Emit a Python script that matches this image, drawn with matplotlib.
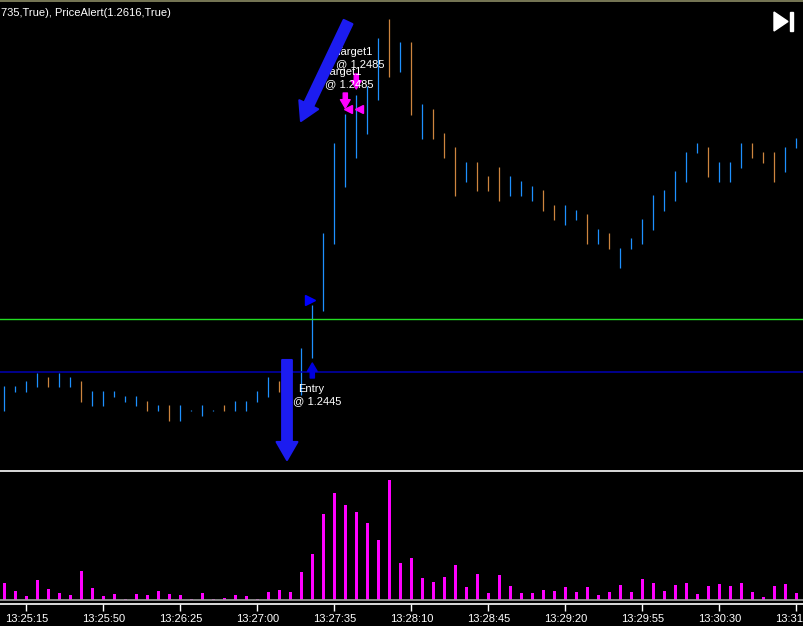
import matplotlib
matplotlib.use("Agg")
import matplotlib.pyplot as plt
from matplotlib.patches import FancyArrowPatch, Polygon, Rectangle
from matplotlib.lines import Line2D

plt.rcParams['font.family'] = ['Liberation Sans', 'DejaVu Sans']

# 5秒K线, 13:25:05 ~ 13:31:05
highs = [1.24422, 1.24422, 1.24432, 1.24448, 1.24440, 1.24448, 1.24440, 1.24432, 1.24412, 1.24412,
         1.24412, 1.24402, 1.24402, 1.24392, 1.24384, 1.24384, 1.24384, 1.24374, 1.24384, 1.24374,
         1.24384, 1.24392, 1.24392, 1.24412, 1.24440, 1.24432, 1.24438, 1.24498, 1.24584, 1.24728,
         1.24908, 1.24966, 1.25004, 1.25022, 1.25118, 1.25156, 1.25110, 1.25110, 1.24986, 1.24976,
         1.24928, 1.24900, 1.24870, 1.24870, 1.24842, 1.24860, 1.24842, 1.24832, 1.24822, 1.24814,
         1.24784, 1.24784, 1.24774, 1.24766, 1.24736, 1.24728, 1.24698, 1.24718, 1.24756, 1.24804,
         1.24814, 1.24852, 1.24890, 1.24908, 1.24900, 1.24870, 1.24870, 1.24908, 1.24908, 1.24890,
         1.24890, 1.24900, 1.24918]
lows = [1.24372, 1.24410, 1.24410, 1.24420, 1.24420, 1.24420, 1.24420, 1.24390, 1.24382, 1.24382,
        1.24400, 1.24390, 1.24382, 1.24372, 1.24372, 1.24352, 1.24352, 1.24372, 1.24362, 1.24372,
        1.24372, 1.24372, 1.24372, 1.24390, 1.24400, 1.24410, 1.24404, 1.24404, 1.24478, 1.24572,
        1.24706, 1.24820, 1.24878, 1.24926, 1.24994, 1.25040, 1.25050, 1.24964, 1.24916, 1.24916,
        1.24878, 1.24802, 1.24830, 1.24812, 1.24812, 1.24792, 1.24802, 1.24802, 1.24792, 1.24772,
        1.24754, 1.24744, 1.24754, 1.24706, 1.24706, 1.24696, 1.24658, 1.24696, 1.24706, 1.24734,
        1.24772, 1.24792, 1.24830, 1.24888, 1.24840, 1.24830, 1.24830, 1.24858, 1.24878, 1.24868,
        1.24830, 1.24850, 1.24898]
# 1 = 上涨(蓝), 0 = 下跌(橙)
up = [1, 1, 1, 1, 0, 1, 1, 0, 1, 1,
      1, 1, 1, 0, 1, 0, 1, 1, 1, 1,
      0, 1, 1, 1, 1, 0, 1, 1, 1, 1,
      1, 1, 1, 1, 1, 0, 1, 0, 1, 0,
      0, 0, 1, 0, 0, 0, 1, 1, 1, 0,
      0, 1, 1, 0, 1, 0, 1, 1, 1, 1,
      1, 1, 1, 1, 0, 1, 1, 1, 0, 0,
      0, 1, 1]
volume = [17, 9, 4, 20, 11, 7, 5, 29, 12, 4,
          6, 1, 6, 5, 9, 6, 5, 1, 7, 1,
          2, 5, 4, 1, 8, 10, 8, 28, 46, 86,
          107, 95, 88, 77, 60, 120, 37, 42, 22, 18,
          23, 35, 13, 26, 7, 25, 14, 7, 7, 10,
          9, 13, 8, 13, 5, 8, 15, 8, 21, 17,
          9, 15, 17, 6, 14, 16, 14, 17, 8, 3,
          14, 16, 7]

tick_idx = [2, 9, 16, 23, 30, 37, 44, 51, 58, 65, 72]
tick_labels = ["13:25:15", "13:25:50", "13:26:25", "13:27:00", "13:27:35", "13:28:10",
               "13:28:45", "13:29:20", "13:29:55", "13:30:30", "13:31:05"]

entry_price = 1.2445
alert_price = 1.24556

# 订单标记
entry_bar = 28
entry_arrow = (1.24438, 1.24468)      # 尾 -> 头
stop_marker = (27.79, 1.24593)
target_arrows = [(32.0, 1.25046, 1.25016), (31.0, 1.25008, 1.24978)]
target_ticks = [(31.25, 1.24976), (32.25, 1.24976)]

# 手绘箭头 (尾, 头)
big_arrows = [((31.25, 1.25150), (26.97, 1.24952)),
              ((25.7, 1.24474), (25.7, 1.24274))]

x = list(range(len(highs)))
cols = ['#1e90ff' if u else '#cd853f' for u in up]

fig = plt.figure(figsize=(8.04, 6.26), dpi=100, facecolor='black')
H = 626.0
ax = fig.add_axes([0, (H - 468) / H, 1, 467 / H], facecolor='black')
ax2 = fig.add_axes([0, 22 / H, 1, 133 / H], facecolor='black', sharex=ax)

# 价格K线
ax.vlines(x, lows, highs, colors=cols, linewidth=0.9)
ax.axhline(alert_price, color='#22dd22', linewidth=1.0)
ax.axhline(entry_price, color='#0000b4', linewidth=1.1)
ax.set_xlim(-0.39, 72.7)
ax.set_ylim(1.24258, 1.25192)
ax.axis('off')

# 入场标记
ax.annotate('', xy=(entry_bar, entry_arrow[1]), xytext=(entry_bar, entry_arrow[0]),
            arrowprops=dict(arrowstyle='simple,head_width=0.7,head_length=0.6,tail_width=0.3',
                            mutation_scale=10, color='#0000dd', shrinkA=0, shrinkB=0))
ax.plot(stop_marker[0], stop_marker[1], marker='>', color='#0000ff', markersize=7, linestyle='none')
ax.text(26.7, 1.24416, "Entry", color='white', fontsize=8, ha='left', va='center')
ax.text(26.22, 1.24392, "@ 1.2445", color='white', fontsize=8, ha='left', va='center')

# 目标标记
for tx, ty0, ty1 in target_arrows:
    ax.annotate('', xy=(tx, ty1), xytext=(tx, ty0),
                arrowprops=dict(arrowstyle='simple,head_width=0.7,head_length=0.6,tail_width=0.3',
                                mutation_scale=10, color='#ff00ff', shrinkA=0, shrinkB=0))
for tx, ty in target_ticks:
    ax.plot(tx, ty, marker='<', color='#ff00ff', markersize=6, linestyle='none')
ax.text(30.15, 1.25089, "Target1", color='white', fontsize=8, ha='left', va='center', zorder=4)
ax.text(30.2, 1.25066, "@ 1.2485", color='white', fontsize=8, ha='left', va='center', zorder=4)
ax.text(29.15, 1.25050, "Target1", color='white', fontsize=8, ha='left', va='center', zorder=4)
ax.text(29.2, 1.25026, "@ 1.2485", color='white', fontsize=8, ha='left', va='center', zorder=4)

# 蓝色手绘箭头
for (x0, y0), (x1, y1) in big_arrows:
    arr = FancyArrowPatch((x0, y0), (x1, y1),
                          arrowstyle='simple,head_width=15,head_length=13,tail_width=7',
                          mutation_scale=1, color='#1c1cf0', linewidth=1.5,
                          joinstyle='round', shrinkA=0, shrinkB=0, zorder=10, clip_on=False)
    ax.add_patch(arr)

# 成交量
ax2.bar(x, volume, width=0.27, color='#ff00ff')
ax2.axhline(0, color='#a0a0a0', linewidth=1.2)
ax2.set_ylim(-4, 129)
ax2.set_yticks([])
for s in ['left', 'right']:
    ax2.spines[s].set_visible(False)
for s in ['top', 'bottom']:
    ax2.spines[s].set_color('white')
    ax2.spines[s].set_linewidth(1.2)
ax2.set_xticks(tick_idx)
ax2.set_xticklabels(tick_labels)
ax2.tick_params(axis='x', colors='white', labelsize=8, length=5, width=1, pad=2)

# 顶部标题和边框
fig.text(0.001, 1 - 13 / H, "735,True), PriceAlert(1.2616,True)", color='white', fontsize=8,
         ha='left', va='center')
fig.add_artist(Line2D([0, 1], [1 - 0.5 / H, 1 - 0.5 / H], color='#8c8c64', linewidth=1.2,
                      transform=fig.transFigure))

# 右上角图标
W = 804.0
fig.add_artist(Polygon([[774 / W, 1 - 12 / H], [774 / W, 1 - 31 / H], [788 / W, 1 - 21.5 / H]],
                       closed=True, color='white', transform=fig.transFigure))
fig.add_artist(Rectangle((790 / W, 1 - 31 / H), 3 / W, 19 / H, color='white',
                         transform=fig.transFigure))

fig.savefig("out.png", dpi=100, facecolor='black')
